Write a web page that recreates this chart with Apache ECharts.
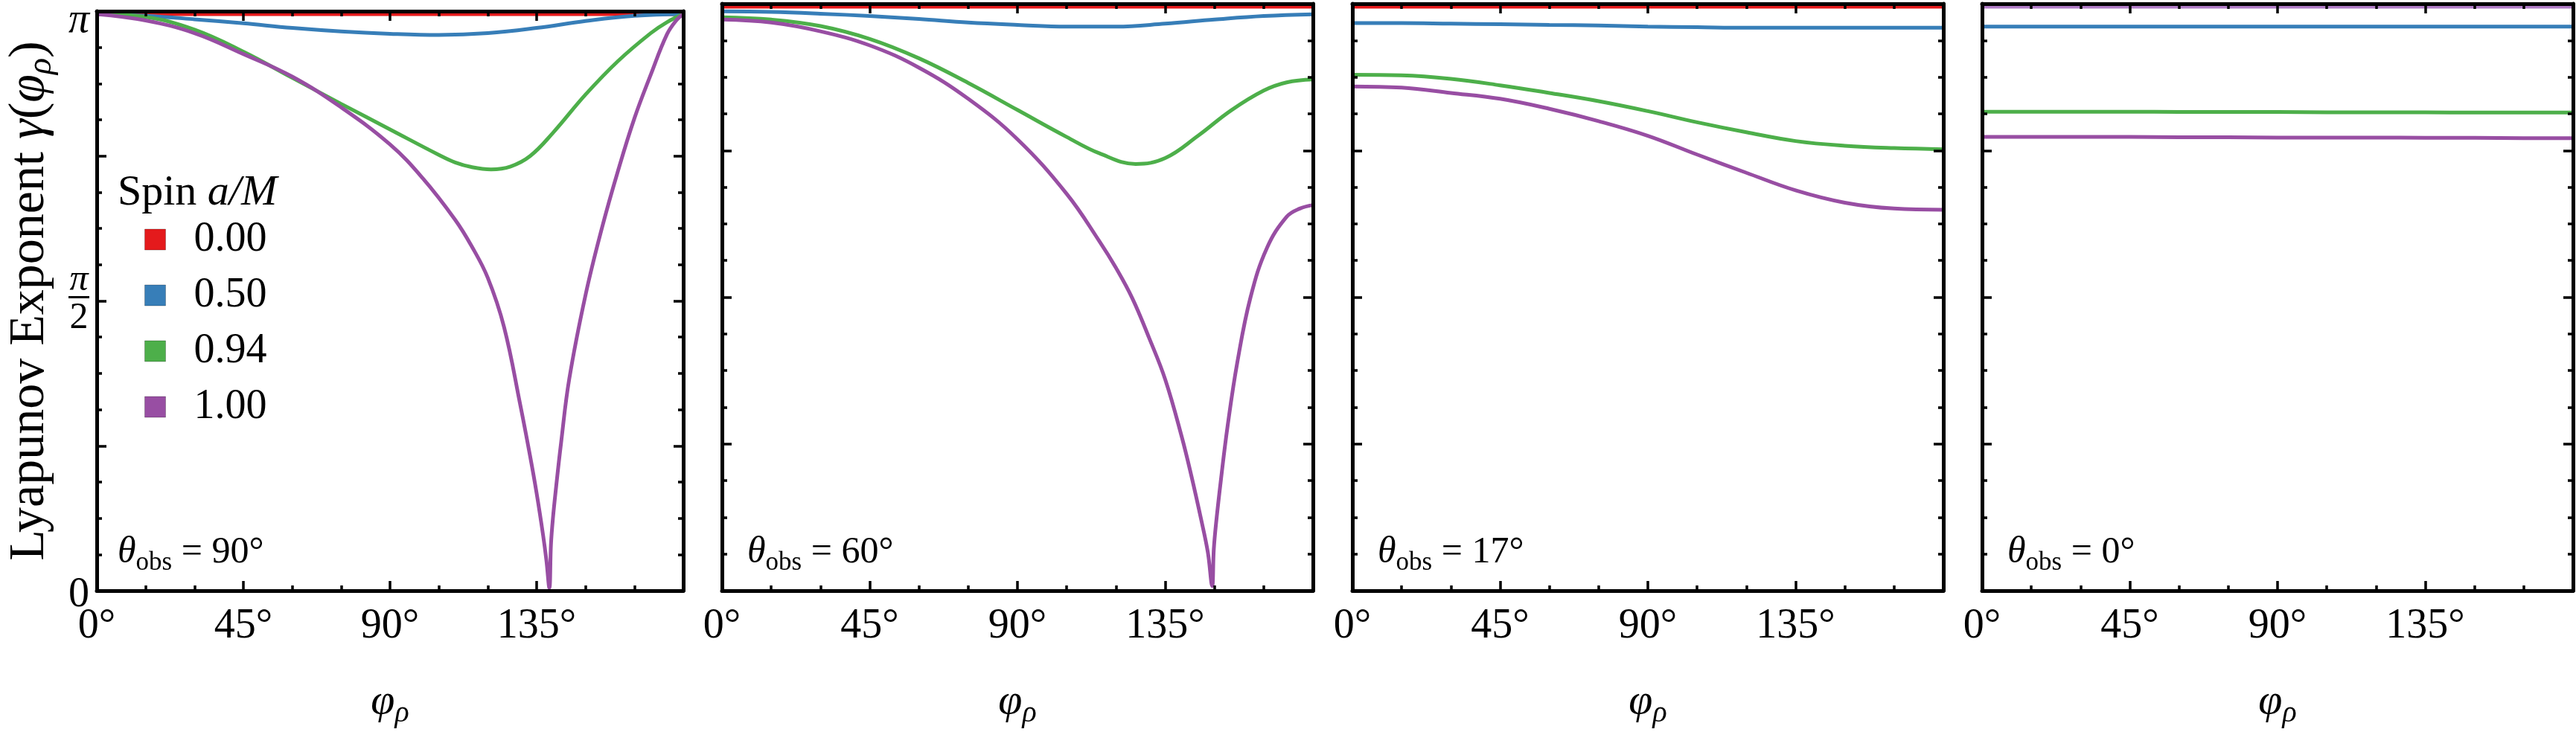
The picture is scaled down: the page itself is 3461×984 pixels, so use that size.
<!DOCTYPE html>
<html>
<head>
<meta charset="utf-8">
<title>Lyapunov Exponent</title>
<script src="https://cdn.jsdelivr.net/npm/echarts@6/dist/echarts.min.js"></script>
<style>
  html, body { margin: 0; padding: 0; background: #fff; }
  #chart { width: 3461px; height: 984px; }
</style>
</head>
<body>
<div id="chart"></div>
<script>
// ---- data (γ in units of π, φρ in degrees) ----
const spins = ['0.00', '0.50', '0.94', '1.00']
const observers = ['90°', '60°', '17°', '0°']
const xTickLabels = ['0°', '45°', '90°', '135°']
const yTickLabels = ['0', 'π/2', 'π']

const phi = [0, 15, 30, 45, 60, 75, 90, 105, 120, 135, 150, 165, 180]
const red = [0.995, 0.995, 0.995, 0.995, 0.995, 0.995, 0.995, 0.995, 0.995, 0.995, 0.995, 0.995, 0.995]

// theta_obs = 90
const blue90 = [0.995, 0.992, 0.986, 0.979, 0.971, 0.965, 0.961, 0.959, 0.962, 0.971, 0.983, 0.992, 0.995]
const phiGreen90 = [0, 15, 30, 45, 60, 75, 90, 105, 110, 115, 121, 127, 133, 140, 150, 160, 170, 175, 180]
const green90 = [0.995, 0.990, 0.968, 0.930, 0.885, 0.840, 0.796, 0.752, 0.739, 0.731, 0.727, 0.732, 0.750, 0.790, 0.856, 0.914, 0.962, 0.981, 0.995]
const phiPurple90 = [0, 15, 30, 45, 60, 75, 90, 100, 110, 115, 120, 125, 130, 133, 135, 137, 138, 138.9, 139.4, 140, 141, 142.5, 145, 150, 155, 160, 165, 170, 175, 178, 180]
const purple90 = [0.995, 0.984, 0.962, 0.926, 0.887, 0.834, 0.770, 0.712, 0.640, 0.595, 0.540, 0.455, 0.320, 0.232, 0.168, 0.095, 0.052, 0.005, 0.080, 0.125, 0.180, 0.255, 0.365, 0.510, 0.625, 0.725, 0.815, 0.890, 0.960, 0.985, 0.995]

// theta_obs = 60
const blue60 = [0.987, 0.986, 0.983, 0.979, 0.974, 0.968, 0.964, 0.961, 0.961, 0.966, 0.973, 0.979, 0.982]
const phiGreen60 = [0, 15, 30, 45, 60, 75, 90, 105, 115, 126, 135, 145, 155, 165, 172, 180]
const green60 = [0.977, 0.973, 0.962, 0.940, 0.907, 0.865, 0.819, 0.773, 0.745, 0.727, 0.737, 0.775, 0.818, 0.852, 0.866, 0.871]
const phiPurple60 = [0, 15, 30, 45, 60, 75, 90, 105, 115, 120, 125, 130, 135, 140, 143, 146, 148, 149.3, 149.8, 150.5, 152, 154, 157, 161, 166, 172, 176, 180]
const purple60 = [0.973, 0.968, 0.953, 0.929, 0.891, 0.838, 0.769, 0.676, 0.595, 0.550, 0.498, 0.432, 0.360, 0.263, 0.195, 0.120, 0.065, 0.008, 0.070, 0.115, 0.190, 0.280, 0.390, 0.500, 0.584, 0.637, 0.651, 0.657]

// theta_obs = 17
const blue17 = [0.967, 0.967, 0.966, 0.965, 0.964, 0.963, 0.961, 0.960, 0.959, 0.959, 0.959, 0.959, 0.959]
const green17 = [0.879, 0.878, 0.872, 0.861, 0.848, 0.834, 0.817, 0.798, 0.781, 0.766, 0.758, 0.754, 0.752]
const purple17 = [0.859, 0.857, 0.848, 0.838, 0.821, 0.800, 0.775, 0.743, 0.712, 0.682, 0.661, 0.651, 0.649]

// theta_obs = 0
const blue0 = [0.961, 0.961, 0.961, 0.961, 0.961, 0.961, 0.961, 0.961, 0.961, 0.961, 0.961, 0.961, 0.961]
const green0 = [0.816, 0.816, 0.816, 0.816, 0.8155, 0.8155, 0.8155, 0.815, 0.815, 0.815, 0.8145, 0.8145, 0.8145]
const purple0 = [0.773, 0.773, 0.773, 0.773, 0.7725, 0.7725, 0.772, 0.772, 0.772, 0.7715, 0.7715, 0.771, 0.771]

// ---- layout ----
const FONT = "'Liberation Serif', 'DejaVu Serif', serif"
const panelLeft = [124, 970, 1817, 2663]
const panelWidth = 794
const panelTop = 5
const panelHeight = 791
const colors = ['#e41a1c', '#377eb8', '#4daf4a', '#984ea3']

// 每个面板的曲线
const curves = [
  [[phi, red], [phi, blue90], [phiGreen90, green90], [phiPurple90, purple90]],
  [[phi, red], [phi, blue60], [phiGreen60, green60], [phiPurple60, purple60]],
  [[phi, red], [phi, blue17], [phi, green17], [phi, purple17]],
  [[phi, red], [phi, blue0], [phi, green0], [phi, purple0]],
]

// 文字样式
function txt(size, extra) {
  return Object.assign({ fontFamily: FONT, fontSize: size, fontWeight: 'normal', color: '#000' }, extra || {})
}
const xNameRich = {
  i: txt(58, { lineHeight: 64, fontStyle: 'italic' }),
  si: txt(40, { lineHeight: 20, padding: [30, 0, 0, 0], fontStyle: 'italic' }),
}
const yNameRich = {
  r: txt(68, { lineHeight: 72 }),
  i: txt(68, { lineHeight: 72, fontStyle: 'italic' }),
  si: txt(46, { lineHeight: 20, padding: [32, 0, 0, 0], fontStyle: 'italic' }),
}
const thetaRich = {
  r: txt(50, { lineHeight: 60 }),
  i: txt(50, { lineHeight: 60, fontStyle: 'italic' }),
  s: txt(35, { lineHeight: 20, padding: [28, 0, 0, 0] }),
}

const tickLine = { color: '#000', width: 3.5 }
const frameLine = { show: true, onZero: false, lineStyle: { color: '#000', width: 5 } }

const grids = [], xAxes = [], yAxes = [], series = [], titles = []

panelLeft.forEach((left, p) => {
  grids.push({ left: left, top: panelTop, width: panelWidth, height: panelHeight })

  const xBase = {
    gridIndex: p, type: 'value', min: 0, max: 180, interval: 45, z: 3,
    axisLine: frameLine,
    axisTick: { show: true, inside: true, length: 13, lineStyle: tickLine },
    minorTick: { show: true, splitNumber: 3, length: 7, lineStyle: tickLine },
    splitLine: { show: false }, minorSplitLine: { show: false },
  }
  xAxes.push(Object.assign({}, xBase, {
    position: 'bottom',
    axisLabel: {
      show: true, margin: 20, showMinLabel: true, showMaxLabel: true,
      fontFamily: FONT, fontSize: 56, color: '#000',
      formatter: (v) => xTickLabels[v / 45] || '',
    },
    name: '{i|φ}{si|ρ}', nameLocation: 'middle', nameGap: 118,
    nameTextStyle: { rich: xNameRich },
  }))
  xAxes.push(Object.assign({}, xBase, { position: 'top', axisLabel: { show: false } }))

  const yBase = {
    gridIndex: p, type: 'value', min: 0, max: 1, interval: 0.25, z: 3,
    axisLine: frameLine,
    axisTick: { show: true, inside: true, length: 13, lineStyle: tickLine },
    minorTick: { show: true, splitNumber: 4, length: 7, lineStyle: tickLine },
    splitLine: { show: false }, minorSplitLine: { show: false },
  }
  yAxes.push(Object.assign({}, yBase, {
    position: 'left',
    axisLabel: {
      show: p === 0, margin: 24, align: 'center', showMinLabel: true, showMaxLabel: true,
      formatter: (v) => {
        if (v === 0) return '{z|' + yTickLabels[0] + '}'
        if (v === 0.5) return '{p|π}\n{bar|}\n{d|2}'
        if (v === 1) return '{top|' + yTickLabels[2] + '}'
        return ''
      },
      rich: {
        z: txt(56, { padding: [12, 0, 0, 0] }),
        top: txt(56, { fontStyle: 'italic', padding: [26, 0, 0, 0] }),
        p: txt(50, { fontStyle: 'italic', lineHeight: 36 }),
        bar: { width: 28, height: 3, backgroundColor: '#000', lineHeight: 10 },
        d: txt(50, { lineHeight: 46 }),
      },
    },
    name: p === 0 ? '{r|Lyapunov Exponent }{i|γ}{r|(}{i|φ}{si|ρ}{r|)}' : '',
    nameLocation: 'middle', nameGap: 54, nameRotate: 90,
    nameTextStyle: { rich: yNameRich },
  }))
  yAxes.push(Object.assign({}, yBase, { position: 'right', axisLabel: { show: false } }))

  curves[p].forEach((c, k) => {
    // the a=0 line in the last panel is drawn in a light purple in the reference
    const color = (p === 3 && k === 0) ? '#b07cc6' : colors[k]
    series.push({
      type: 'line', name: spins[k],
      xAxisIndex: p * 2, yAxisIndex: p * 2,
      data: c[0].map((x, i) => [x, c[1][i]]),
      showSymbol: false, symbol: 'none', smooth: 0.4,
      lineStyle: { color: color, width: 5 },
      itemStyle: { color: colors[k] },
      z: 2,
    })
  })

  titles.push({
    text: '{i|θ}{s|obs}{r| = ' + observers[p] + '}',
    left: left + 34, top: 713, padding: 0,
    textStyle: { rich: thetaRich },
  })
})

titles.push({
  text: '{r|Spin }{i|a/M}',
  left: 158, top: 228, padding: 0,
  textStyle: { rich: {
    r: txt(58, { lineHeight: 64 }),
    i: txt(58, { lineHeight: 64, fontStyle: 'italic' }),
  } },
})

const myChart = echarts.init(document.getElementById('chart'))
myChart.setOption({
  animation: false,
  backgroundColor: '#fff',
  title: titles,
  legend: {
    data: spins, selectedMode: false,
    orient: 'vertical', left: 194, top: 294, padding: 0,
    icon: 'rect', itemWidth: 28, itemHeight: 28, itemGap: 19,
    itemStyle: { borderColor: 'rgba(0,0,0,0.25)', borderWidth: 1 },
    textStyle: { fontFamily: FONT, fontSize: 56, color: '#000', padding: [0, 0, 0, 33] },
  },
  grid: grids,
  xAxis: xAxes,
  yAxis: yAxes,
  series: series,
})
</script>
</body>
</html>
